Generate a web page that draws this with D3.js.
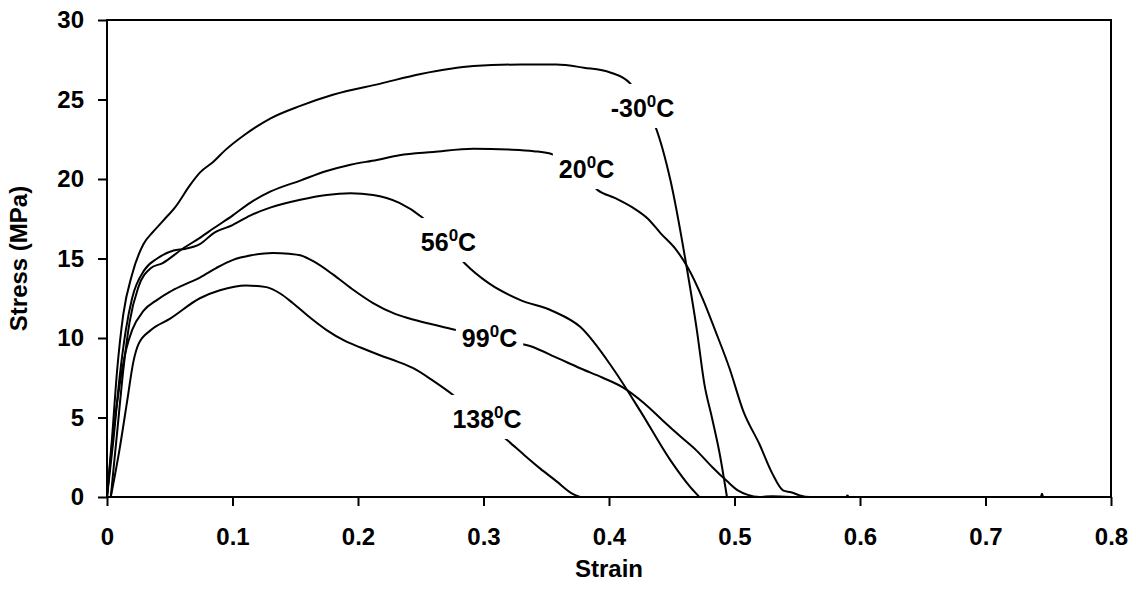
<!DOCTYPE html>
<html>
<head>
<meta charset="utf-8">
<script src="https://cdn.jsdelivr.net/npm/d3@7"></script>
<style>
  body { margin: 0; background: #fff; }
  text { font-family: "Liberation Sans", Arial, sans-serif; font-weight: bold; }
</style>
</head>
<body>
<div id="chart"></div>
<script>
// tick values
var xTicks = [0, 0.1, 0.2, 0.3, 0.4, 0.5, 0.6, 0.7, 0.8];
var yTicks = [0, 5, 10, 15, 20, 25, 30];

// -30 C
var strainM30 = [0, 0.004, 0.008, 0.013, 0.020, 0.029, 0.037, 0.045, 0.055, 0.066, 0.074, 0.085, 0.094, 0.11, 0.13, 0.154, 0.18, 0.218, 0.25, 0.292, 0.33, 0.358, 0.38, 0.401, 0.417, 0.427, 0.437, 0.449, 0.462, 0.47, 0.476, 0.482, 0.488, 0.494];
var stressM30 = [0, 3.7, 7.9, 11.5, 14.0, 15.9, 16.7, 17.4, 18.3, 19.6, 20.4, 21.1, 21.8, 22.8, 23.8, 24.6, 25.3, 26.0, 26.6, 27.1, 27.2, 27.2, 27.0, 26.7, 26.0, 24.8, 23.3, 19.9, 14.4, 10.5, 7.1, 5.0, 2.8, 0];

// 20 C
var strain20 = [0.003, 0.008, 0.013, 0.018, 0.025, 0.035, 0.044, 0.060, 0.074, 0.085, 0.1, 0.114, 0.13, 0.154, 0.175, 0.194, 0.215, 0.233, 0.26, 0.292, 0.32, 0.34, 0.353, 0.365, 0.378, 0.391, 0.405, 0.419, 0.431, 0.441, 0.454, 0.463, 0.475, 0.485, 0.496, 0.507, 0.52, 0.53, 0.539, 0.545, 0.552, 0.56, 0.589, 0.59, 0.591, 0.744, 0.745, 0.746, 0.75];
var stress20 = [0, 4.0, 8.0, 11.0, 13.2, 14.4, 14.7, 15.6, 16.3, 16.9, 17.7, 18.5, 19.2, 19.9, 20.5, 20.9, 21.2, 21.5, 21.7, 21.9, 21.85, 21.75, 21.6, 21.2, 20.4, 19.3, 18.8, 18.2, 17.5, 16.6, 15.5, 14.4, 12.4, 10.4, 8.1, 5.4, 3.3, 1.5, 0.4, 0.3, 0.1, 0, 0, 0.1, 0, 0, 0.2, 0, 0];

// 56 C
var strain56 = [0, 0.005, 0.01, 0.015, 0.02, 0.03, 0.04, 0.053, 0.062, 0.074, 0.085, 0.1, 0.114, 0.13, 0.154, 0.175, 0.194, 0.212, 0.233, 0.251, 0.268, 0.285, 0.305, 0.329, 0.355, 0.377, 0.403, 0.425, 0.449, 0.465, 0.472];
var stress56 = [0, 3.5, 7.5, 10.5, 12.5, 14.3, 15.0, 15.5, 15.6, 15.9, 16.6, 17.1, 17.7, 18.2, 18.7, 19.0, 19.1, 19.0, 18.5, 17.6, 16.3, 14.7, 13.4, 12.4, 11.7, 10.7, 8.1, 5.4, 2.3, 0.6, 0];

// 99 C
var strain99 = [0, 0.005, 0.01, 0.015, 0.02, 0.029, 0.04, 0.05, 0.06, 0.074, 0.087, 0.1, 0.115, 0.132, 0.145, 0.154, 0.165, 0.18, 0.195, 0.212, 0.23, 0.247, 0.273, 0.29, 0.31, 0.337, 0.36, 0.377, 0.395, 0.411, 0.428, 0.443, 0.457, 0.47, 0.482, 0.494, 0.503, 0.51, 0.52, 0.53, 0.545];
var stress99 = [0, 4.0, 7.0, 9.2, 10.5, 11.7, 12.4, 12.9, 13.3, 13.8, 14.4, 14.9, 15.2, 15.35, 15.3, 15.2, 14.8, 14.0, 13.1, 12.2, 11.5, 11.1, 10.6, 10.3, 9.9, 9.5, 8.7, 8.1, 7.5, 6.9, 5.9, 4.8, 3.8, 2.9, 1.9, 1.0, 0.4, 0.15, 0, 0.05, 0];

// 138 C
var strain138 = [0.003, 0.01, 0.016, 0.021, 0.025, 0.035, 0.05, 0.074, 0.09, 0.111, 0.127, 0.138, 0.148, 0.16, 0.175, 0.19, 0.202, 0.218, 0.232, 0.244, 0.26, 0.276, 0.29, 0.305, 0.32, 0.333, 0.345, 0.358, 0.371, 0.377];
var stress138 = [0, 3.0, 6.0, 8.5, 9.6, 10.5, 11.2, 12.5, 13.0, 13.3, 13.2, 12.8, 12.2, 11.4, 10.5, 9.8, 9.4, 8.9, 8.5, 8.1, 7.3, 6.4, 5.5, 4.5, 3.5, 2.6, 1.8, 1.0, 0.2, 0];

// curve labels: base text, and the strain/stress where the label sits (centre, baseline)
var labelText = ["-30", "20", "56", "99", "138"];
var labelStrain = [0.4267, 0.3821, 0.2721, 0.3048, 0.3028];
var labelStress = [23.9, 20.06, 15.47, 9.43, 4.34];

var series = [
    {x: strainM30, y: stressM30},
    {x: strain20, y: stress20},
    {x: strain56, y: stress56},
    {x: strain99, y: stress99},
    {x: strain138, y: stress138}
];

window.svgW = 1136;
window.svgH = 594;

var svg = d3.select("#chart")
    .append("svg")
    .attr("width", window.svgW)
    .attr("height", window.svgH);

var x = d3.scaleLinear().domain([0, 0.8]).range([107, 1111]);
var y = d3.scaleLinear().domain([0, 30]).range([497, 20]);

//axes
svg.append("g")
    .attr("transform", "translate(0," + y(0) + ")")
    .call(d3.axisBottom(x).tickValues(xTicks).tickSize(9).tickSizeOuter(0).tickPadding(22)
        .tickFormat(function(d){ return d === 0 ? "0" : d3.format(".1f")(d); }));

svg.append("g")
    .attr("transform", "translate(" + x(0) + ",0)")
    .call(d3.axisLeft(y).tickValues(yTicks).tickSize(9).tickSizeOuter(0).tickPadding(14));

svg.selectAll(".tick line").attr("stroke", "black").attr("stroke-width", 2);
svg.selectAll(".domain").remove();
svg.selectAll(".tick text")
    .attr("fill", "black")
    .style("font-size", "24px")
    .style("font-family", "'Liberation Sans', Arial, sans-serif")
    .style("font-weight", "bold");

//plot frame
svg.append("rect")
    .attr("x", x(0))
    .attr("y", y(30))
    .attr("width", x(0.8) - x(0))
    .attr("height", y(0) - y(30))
    .attr("fill", "none")
    .attr("stroke", "black")
    .attr("stroke-width", 2);

//curves
var line = d3.line()
    .x(function(d){ return x(d[0]); })
    .y(function(d){ return y(d[1]); })
    .curve(d3.curveMonotoneX);

svg.selectAll(".curve")
    .data(series)
    .enter()
    .append("path")
    .attr("class", "curve")
    .attr("d", function(s){ return line(d3.zip(s.x, s.y)); })
    .attr("fill", "none")
    .attr("stroke", "black")
    .attr("stroke-width", 2);

//curve labels with white boxes that hide the curve behind
var labels = svg.selectAll(".lbl")
    .data(labelText)
    .enter()
    .append("g")
    .attr("class", "lbl")
    .attr("transform", function(d, i){
        return "translate(" + x(labelStrain[i]) + "," + y(labelStress[i]) + ")";
    });

var labelTexts = labels.append("text")
    .attr("text-anchor", "middle")
    .style("font-size", "25px");
labelTexts.append("tspan").text(function(d){ return d; });
labelTexts.append("tspan").attr("dy", -10).style("font-size", "17px").text("0");
labelTexts.append("tspan").attr("dy", 10).text("C");

labels.each(function(){
    var g = d3.select(this);
    var bb = g.select("text").node().getBBox();
    g.insert("rect", "text")
        .attr("x", bb.x - 6)
        .attr("y", -33)
        .attr("width", bb.width + 12)
        .attr("height", 44)
        .attr("fill", "white");
});

//axis titles
svg.append("text")
    .attr("x", (x(0) + x(0.8)) / 2)
    .attr("y", 577)
    .attr("text-anchor", "middle")
    .style("font-size", "24px")
    .text("Strain");

svg.append("text")
    .attr("transform", "translate(27," + (y(0) + y(30)) / 2 + ") rotate(-90)")
    .attr("text-anchor", "middle")
    .style("font-size", "24px")
    .text("Stress (MPa)");
</script>
</body>
</html>
